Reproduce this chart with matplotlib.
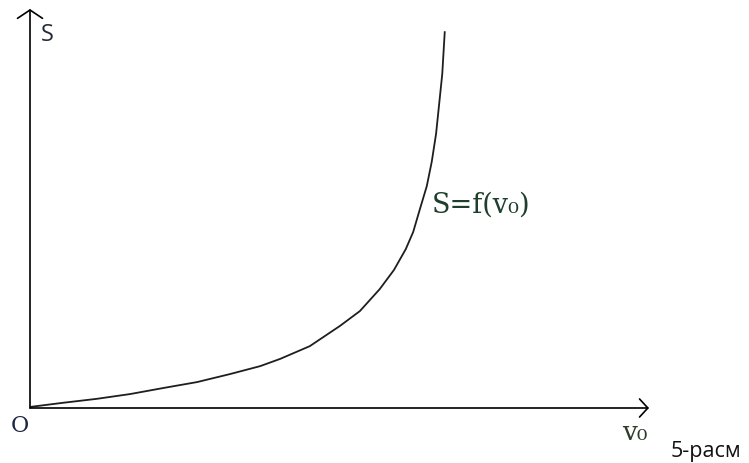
import matplotlib
matplotlib.use("Agg")
import matplotlib.pyplot as plt

# curve S = f(v0) (arbitrary units, both axes run 0..10)
v0 = [0.02, 0.53, 1.08, 1.62, 2.15, 2.70, 3.23, 3.72, 4.04, 4.52, 5.01,
      5.33, 5.65, 5.88, 6.07, 6.19, 6.30, 6.41, 6.49, 6.56, 6.61, 6.66, 6.70]
S = [0.03, 0.13, 0.23, 0.35, 0.50, 0.65, 0.85, 1.05, 1.23, 1.55, 2.06,
     2.43, 2.98, 3.46, 3.98, 4.41, 4.99, 5.56, 6.17, 6.87, 7.62, 8.37, 9.42]

W, H = 749, 464
fig = plt.figure(figsize=(W / 100, H / 100), dpi=100)

# origin of the drawing sits at pixel (30, 409), arrows end at x=649 and y=10
ax = fig.add_axes([30 / W, (H - 409) / H, (649 - 30) / W, (409 - 10) / H])
ax.set_xlim(0, 10)
ax.set_ylim(0, 10)
ax.axis('off')

ax.plot(v0, S, color='#1e1e1e', lw=1.3, solid_joinstyle='round')

# axes with open arrow heads
ax.annotate('', xy=(0, 10), xytext=(0, 0),
            arrowprops=dict(arrowstyle='->,head_length=0.6,head_width=0.9',
                            color='black', lw=1.2, mutation_scale=10,
                            shrinkA=0, shrinkB=0))
ax.annotate('', xy=(10, 0), xytext=(0, 0),
            arrowprops=dict(arrowstyle='->,head_length=0.6,head_width=0.65',
                            color='black', lw=1.2, mutation_scale=10,
                            shrinkA=0, shrinkB=0))

serif = ['DejaVu Serif']
sans = ['Open Sans', 'DejaVu Sans']
ax.annotate('S', xy=(41, H - 41), xycoords='figure pixels', fontsize=17,
            family=sans, color='#242a3a', ha='left', va='baseline')
ax.annotate('O', xy=(11, H - 432), xycoords='figure pixels', fontsize=16,
            family=serif, color='#1c2640', ha='left', va='baseline')
ax.annotate('S=f(v₀)', xy=(432, H - 213), xycoords='figure pixels',
            fontsize=19.5, family=serif, color='#1e3f2c',
            ha='left', va='baseline')
ax.annotate('v₀', xy=(622, H - 440), xycoords='figure pixels', fontsize=19,
            family=serif, color='#2e3d2a', ha='left', va='baseline')
ax.annotate('5-расм', xy=(671, H - 457), xycoords='figure pixels',
            fontsize=15.5, family=sans, color='#111111',
            ha='left', va='baseline')

fig.savefig('out.png', dpi=100)
